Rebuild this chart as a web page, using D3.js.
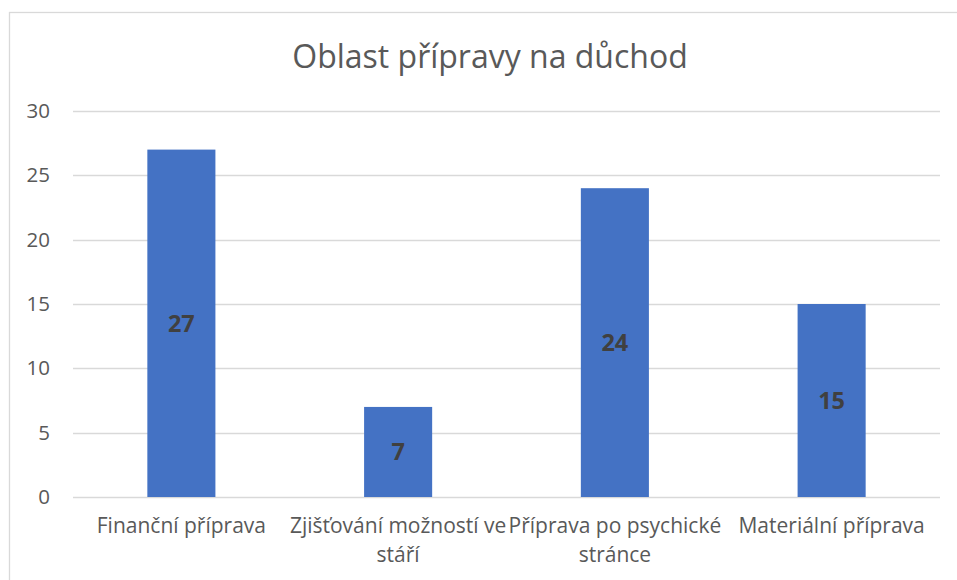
<!DOCTYPE html>
<html>
<head>
<meta charset="utf-8">
<script src="https://cdn.jsdelivr.net/npm/d3@7"></script>
<style>
  body { margin: 0; background: #fff; }
  svg text { font-family: 'Open Sans', 'Noto Sans', sans-serif; }
</style>
</head>
<body>
<svg id="chart"></svg>
<script>
// data
var title = 'Oblast přípravy na důchod';
var categories = ['Finanční příprava', 'Zjišťování možností ve stáří', 'Příprava po psychické stránce', 'Materiální příprava'];
var values = [27, 7, 24, 15];
var yTicks = [0, 5, 10, 15, 20, 25, 30];

// chart size
var W = 957, H = 580;
var margin = { top: 111, right: 17, bottom: 83, left: 73 },
    width  = W - margin.left - margin.right,
    height = H - margin.top - margin.bottom;

var svg = d3.select('#chart')
    .attr('width', W)
    .attr('height', H);

// outer frame
svg.append('rect')
    .attr('x', 9.5).attr('y', 12.5)
    .attr('width', 962).attr('height', 600)
    .attr('fill', 'none')
    .attr('stroke', '#d9d9d9')
    .attr('stroke-width', 1.3);

svg.append('text')
    .attr('x', 490)
    .attr('y', 68)
    .attr('text-anchor', 'middle')
    .style('font-size', '32px')
    .style('fill', '#595959')
    .text(title);

var g = svg.append('g')
    .attr('transform', 'translate(' + margin.left + ',' + margin.top + ')');

var x = d3.scaleBand()
    .domain(categories)
    .range([0, width])
    .paddingInner(0.686)
    .paddingOuter(0.343);

var y = d3.scaleLinear()
    .domain([0, 30])
    .range([height, 0]);

// grid lines
g.selectAll('.grid')
    .data(yTicks)
    .enter()
    .append('line')
    .attr('class', 'grid')
    .attr('x1', 0)
    .attr('x2', width)
    .attr('y1', function(d) { return Math.round(y(d)) + 0.5; })
    .attr('y2', function(d) { return Math.round(y(d)) + 0.5; })
    .attr('stroke', '#d9d9d9')
    .attr('stroke-width', 1.3);

// y axis labels
var yAxis = d3.axisLeft(y).tickValues(yTicks).tickSize(0).tickPadding(23);
var ya = g.append('g').call(yAxis);
ya.select('.domain').remove();
ya.selectAll('text')
    .style('font-size', '20.5px')
    .style('fill', '#595959')
    .style('font-family', "'Open Sans', sans-serif");

// bars
g.selectAll('.bar')
    .data(values)
    .enter()
    .append('rect')
    .attr('class', 'bar')
    .attr('x', function(d, i) { return x(categories[i]); })
    .attr('y', function(d) { return y(d); })
    .attr('width', x.bandwidth())
    .attr('height', function(d) { return height - y(d); })
    .attr('fill', '#4472c4');

// value labels
g.selectAll('.val')
    .data(values)
    .enter()
    .append('text')
    .attr('class', 'val')
    .attr('x', function(d, i) { return x(categories[i]) + x.bandwidth() / 2; })
    .attr('y', function(d) { return (y(d) + height) / 2; })
    .attr('dy', '0.36em')
    .attr('text-anchor', 'middle')
    .style('font-size', '23.5px')
    .style('font-weight', 'bold')
    .style('fill', '#404040')
    .text(function(d) { return d; });

// x axis labels, wrapped to the band step
var xAxis = d3.axisBottom(x).tickSize(0).tickPadding(0);
var xa = g.append('g')
    .attr('transform', 'translate(0,' + height + ')')
    .call(xAxis);
xa.select('.domain').remove();
xa.selectAll('text')
    .style('font-size', '21px')
    .style('fill', '#595959')
    .style('font-family', "'Open Sans', sans-serif")
    .attr('y', 36)
    .attr('dy', 0)
    .call(wrap, x.step() + 10);

function wrap(sel, maxW) {
  sel.each(function() {
    var text = d3.select(this),
        words = text.text().split(/\s+/),
        line = [],
        lineNo = 0,
        yy = text.attr('y'),
        tspan = text.text(null).append('tspan').attr('x', 0).attr('y', yy);
    words.forEach(function(w) {
      line.push(w);
      tspan.text(line.join(' '));
      if (tspan.node().getComputedTextLength() > maxW && line.length > 1) {
        line.pop();
        tspan.text(line.join(' '));
        line = [w];
        lineNo++;
        tspan = text.append('tspan').attr('x', 0).attr('y', +yy + lineNo * 29).text(w);
      }
    });
  });
}
</script>
</body>
</html>
